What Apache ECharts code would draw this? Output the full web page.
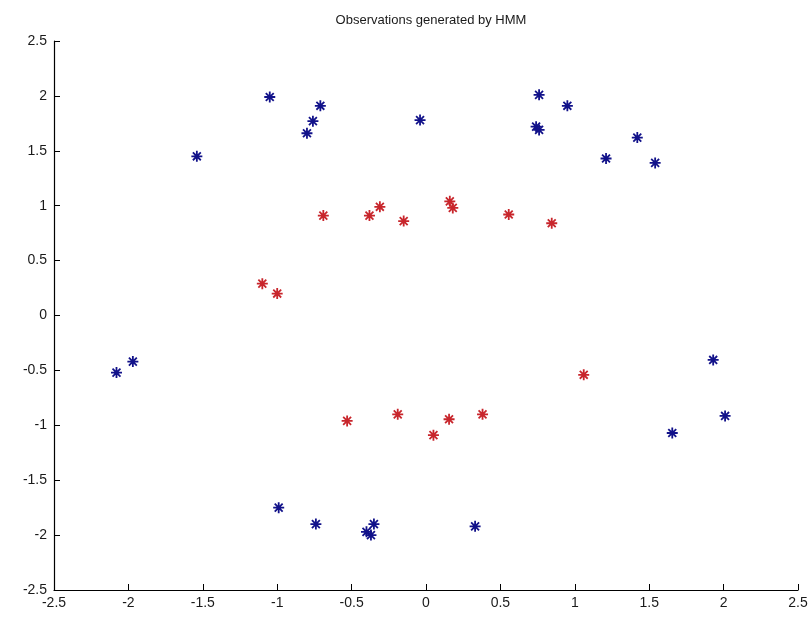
<!DOCTYPE html>
<html>
<head>
    <meta charset="utf-8"/>
    <title>Observations generated by HMM</title>
    <script src="https://cdn.jsdelivr.net/npm/echarts@6/dist/echarts.min.js"></script>
    <style>
        html, body { margin: 0; padding: 0; background: #fff; }
        #chart { width: 811px; height: 620px; }
    </style>
</head>
<body>
<div id="chart"></div>
<script>
    // observations, state 1 (blue) and state 2 (red)
    var blueX = [-2.08, -1.97, -1.54, -1.05, -0.71, -0.76, -0.80, -0.04, 0.76, 0.95, 0.74, 0.76,
        1.42, 1.21, 1.54, 1.93, 2.01, 1.655, -0.99, -0.74, -0.35, -0.40, -0.37, 0.33];
    var blueY = [-0.52, -0.42, 1.45, 1.99, 1.91, 1.77, 1.66, 1.78, 2.01, 1.91, 1.72, 1.69,
        1.62, 1.43, 1.39, -0.405, -0.915, -1.07, -1.75, -1.90, -1.90, -1.97, -2.0, -1.92];
    var redX = [-1.10, -1.00, -0.69, -0.38, -0.31, -0.15, 0.16, 0.18, 0.556, 0.845, 1.06,
        -0.53, -0.19, 0.05, 0.155, 0.38];
    var redY = [0.29, 0.20, 0.91, 0.91, 0.99, 0.86, 1.04, 0.98, 0.92, 0.84, -0.54,
        -0.96, -0.90, -1.09, -0.945, -0.90];
    var titleText = 'Observations generated by HMM';

    function pairs(xs, ys) {
        var out = [];
        for (var i = 0; i < xs.length; i++) {
            out.push([xs[i], ys[i]]);
        }
        return out;
    }

    // matlab style '*' marker
    var star = 'path://M0,-5L0,5M-5,0L5,0M-3.6,-3.6L3.6,3.6M-3.6,3.6L3.6,-3.6';
    var labelStyle = {color: '#1a1a1a', fontFamily: 'Liberation Sans', fontSize: 14};

    var myChart = echarts.init(document.getElementById('chart'));
    var option = {
        animation: false,
        title: {
            text: titleText,
            left: 426,
            top: 9,
            textAlign: 'center',
            textStyle: {color: '#1a1a1a', fontFamily: 'Liberation Sans', fontSize: 13, fontWeight: 'normal'}
        },
        grid: {left: 54, right: 13, top: 41, bottom: 30},
        xAxis: {
            type: 'value',
            min: -2.5,
            max: 2.5,
            interval: 0.5,
            axisLine: {show: true, onZero: false, lineStyle: {color: '#000', width: 1.2}},
            axisTick: {show: true, inside: true, length: 6, lineStyle: {color: '#000'}},
            axisLabel: Object.assign({margin: 6}, labelStyle),
            splitLine: {show: false}
        },
        yAxis: {
            type: 'value',
            min: -2.5,
            max: 2.5,
            interval: 0.5,
            axisLine: {show: true, onZero: false, lineStyle: {color: '#000', width: 1.2}},
            axisTick: {show: true, inside: true, length: 6, lineStyle: {color: '#000'}},
            axisLabel: Object.assign({margin: 7}, labelStyle),
            splitLine: {show: false}
        },
        series: [
            {
                type: 'scatter',
                data: pairs(blueX, blueY),
                symbol: star,
                symbolSize: 11,
                itemStyle: {color: '#12128a', borderColor: '#12128a', borderWidth: 1.8, opacity: 1}
            },
            {
                type: 'scatter',
                data: pairs(redX, redY),
                symbol: star,
                symbolSize: 11,
                itemStyle: {color: '#c8262c', borderColor: '#c8262c', borderWidth: 1.8, opacity: 1}
            }
        ]
    };
    myChart.setOption(option);
</script>
</body>
</html>
